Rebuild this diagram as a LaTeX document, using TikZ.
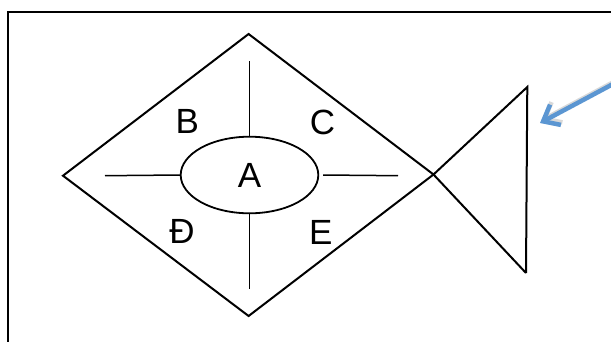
\documentclass[tikz,border=0pt]{standalone}
\usepackage{fontspec}
\setmainfont{Liberation Sans}
\usetikzlibrary{arrows.meta,shapes.geometric}
\definecolor{fishblue}{RGB}{91,150,210}

\begin{document}
\begin{tikzpicture}[x=1pt,y=-1pt,
  fishline/.style={line width=2pt,line join=miter},
  finline/.style={line width=1.5pt},
  fishlbl/.style={font=\fontsize{35}{40}\selectfont,inner sep=0pt},
  pointer/.style={-{Straight Barb[length=14pt,width=23pt,line width=4.5pt]},line width=4.5pt,
    line cap=round}
]
  \useasboundingbox (0,0) rectangle (611,341);
  \clip (0,0) rectangle (611,341);

  % frame
  \draw[line width=1.8pt] (8,12) rectangle (650,380);

  % body corners
  \coordinate (top) at (248.6,34);
  \coordinate (left) at (63,175.7);
  \coordinate (bottom) at (248.6,316);
  \coordinate (cross) at (433.5,174.5);
  \coordinate (tailtop) at (527.3,87);
  \coordinate (tailbot) at (526,273);

  \draw[fishline] (tailbot) -- (cross) -- (top) -- (left) -- (bottom) -- (cross) -- (tailtop) -- (tailbot);

  % head
  \node[draw,ellipse,line width=1.8pt,minimum width=137.6pt,minimum height=76.6pt,
    inner sep=0pt,fishlbl] (head) at (249.5,175) {A};

  % fins
  \coordinate (finN) at (249.5,61);
  \coordinate (finS) at (249.5,289);
  \coordinate (finW) at (105,175.7);
  \coordinate (finE) at (398,175.7);
  \draw[finline] (head.north) -- (finN);
  \draw[finline] (head.south) -- (finS);
  \draw[finline] (head.west) -- (finW);
  \draw[finline] ([xshift=4pt]head.east) -- (finE);

  % labels
  \node[fishlbl] (lblB) at (187.3,121.7) {B};
  \node[fishlbl] (lblC) at (322.5,122.5) {C};
  \node[fishlbl] (lblD) at (182,231.7) {Đ};
  \node[fishlbl] (lblE) at (320.7,232) {E};

  % pointer
  \coordinate (arrowfrom) at (614,83.5);
  \coordinate (arrowto) at (540,123);
  \draw[pointer,black!25,opacity=0.6] ([shift={(1.5pt,2.5pt)}]arrowfrom) -- ([shift={(1.5pt,2.5pt)}]arrowto);
  \draw[pointer,fishblue] (arrowfrom) -- (arrowto);
\end{tikzpicture}
\end{document}
